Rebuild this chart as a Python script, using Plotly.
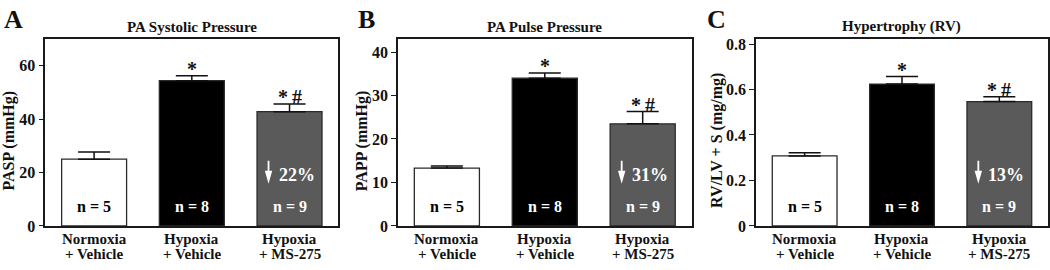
import plotly.graph_objects as go

# ---- data ----
group_line1 = ["Normoxia", "Hypoxia", "Hypoxia"]
group_line2 = ["+ Vehicle", "+ Vehicle", "+ MS-275"]
n_labels = ["n = 5", "n = 8", "n = 9"]
sig_labels = ["", "*", "*\u2009#"]

pasp_mean = [25.0, 54.4, 42.8]
pasp_err = [2.7, 1.8, 2.9]
papp_mean = [13.3, 34.0, 23.5]
papp_err = [0.5, 1.2, 2.8]
rv_mean = [0.308, 0.624, 0.547]
rv_err = [0.014, 0.033, 0.021]

panel_letters = ["A", "B", "C"]
panel_titles = ["PA Systolic Pressure", "PA Pulse Pressure", "Hypertrophy (RV)"]
y_titles = ["PASP (mmHg)", "PAPP (mmHg)", "RV/LV + S (mg/mg)"]
reductions = ["22%", "31%", "13%"]
y_ranges = [[0, 70], [0, 43], [0, 0.822]]
y_ticks = [[0, 20, 40, 60], [0, 10, 20, 30, 40], [0, 0.2, 0.4, 0.6, 0.8]]
y_ticktext = [["0", "20", "40", "60"], ["0", "10", "20", "30", "40"], ["0", "0.2", "0.4", "0.6", "0.8"]]

means = [pasp_mean, papp_mean, rv_mean]
errs = [pasp_err, papp_err, rv_err]

# ---- style ----
W, H = 1050, 270
FONT = "Liberation Serif"
INK = "#111111"
bar_colors = ["#ffffff", "#000000", "#5a5a5a"]
inner_text_colors = ["#000000", "#ffffff", "#ffffff"]
x_doms_px = [(45.3, 338.7), (398.3, 692.3), (756.7, 1049.0)]
y_top_px, y_bot_px = 37.7, 233.3
ylab_x_px = [9, 362, 717]
letter_x_px = [2, 356, 706]


def frac_y(px):
    return (y_bot_px - px) / (y_bot_px - y_top_px)


def bold(size, color=INK):
    return dict(family=FONT, size=size, color=color, weight="bold")


fig = go.Figure()
annotations = []
shapes = []

for i in range(3):
    sfx = "" if i == 0 else str(i + 1)
    xa, ya = "x" + sfx, "y" + sfx
    fig.add_trace(go.Bar(
        x=[0, 1, 2], y=means[i],
        xaxis=xa, yaxis=ya,
        width=0.665,
        marker=dict(color=bar_colors, line=dict(color="#2a2a2a", width=1.3)),
        error_y=dict(type="data", array=errs[i], arrayminus=[0, 0, 0], symmetric=False,
                     color=INK, thickness=1.5, width=16),
        showlegend=False, hoverinfo="skip",
    ))
    x0, x1 = x_doms_px[i]
    fig.layout["xaxis" + sfx] = dict(
        domain=[x0 / W, x1 / W], range=[-0.5, 2.5], anchor=ya,
        showticklabels=False, ticks="", showgrid=False, zeroline=False,
        showline=True, linecolor="#1a1a1a", linewidth=1.5, mirror=True, fixedrange=True,
    )
    fig.layout["yaxis" + sfx] = dict(
        domain=[1 - y_bot_px / H, 1 - y_top_px / H], range=y_ranges[i], anchor=xa,
        tickvals=y_ticks[i], ticktext=y_ticktext[i], ticks="outside", ticklen=5,
        tickwidth=1.3, tickcolor="#1a1a1a", tickfont=bold(16),
        showgrid=False, zeroline=False,
        showline=True, linecolor="#1a1a1a", linewidth=1.5, mirror=True, fixedrange=True,
    )
    xd = xa + " domain"
    yd = ya + " domain"
    annotations.append(dict(text=panel_letters[i], xref="paper", yref="paper",
                            x=letter_x_px[i] / W, y=1 - 0 / H, xanchor="left", yanchor="top",
                            showarrow=False, font=bold(26)))
    annotations.append(dict(text=panel_titles[i], xref=xd, yref="paper",
                            x=0.5, y=1 - 25 / H, xanchor="center", yanchor="middle",
                            showarrow=False, font=bold(15)))
    annotations.append(dict(text=y_titles[i], xref="paper", yref="paper",
                            x=ylab_x_px[i] / W, y=1 - 144 / H, xanchor="center", yanchor="middle",
                            textangle=-90, showarrow=False, font=bold(16)))
    for j in range(3):
        annotations.append(dict(text=group_line1[j], xref=xa, yref="paper",
                                x=j, y=1 - 247 / H, xanchor="center", yanchor="middle",
                                showarrow=False, font=bold(15)))
        annotations.append(dict(text=group_line2[j], xref=xa, yref="paper",
                                x=j, y=1 - 263 / H, xanchor="center", yanchor="middle",
                                showarrow=False, font=bold(15)))
        annotations.append(dict(text=n_labels[j], xref=xa, yref=yd,
                                x=j, y=frac_y(213), xanchor="center", yanchor="middle",
                                showarrow=False, font=bold(16, inner_text_colors[j])))
        if sig_labels[j]:
            annotations.append(dict(text=sig_labels[j], xref=xa, yref=ya,
                                    x=j, y=means[i][j] + errs[i][j], xanchor="center",
                                    yanchor="bottom", yshift=-6, showarrow=False,
                                    font=bold(20)))
    # downward arrow (pixel-sized shape anchored to the MS-275 bar)
    shapes.append(dict(type="path", xref=xa, yref=yd, xsizemode="pixel", ysizemode="pixel",
                       xanchor=2, yanchor=frac_y(165),
                       path="M -21.9,0 L -20.1,0 L -20.1,-10 L -17.3,-10 L -21,-23 "
                            "L -24.7,-10 L -21.9,-10 Z",
                       fillcolor="#ffffff", line=dict(width=0)))
    annotations.append(dict(text=reductions[i], xref=xa, yref=yd, x=2, xshift=7,
                            y=frac_y(179.5), xanchor="center", yanchor="middle",
                            showarrow=False, font=bold(18, "#ffffff")))

fig.update_layout(
    width=W, height=H, margin=dict(l=0, r=0, t=0, b=0),
    paper_bgcolor="#ffffff", plot_bgcolor="#ffffff",
    barmode="overlay", annotations=annotations, shapes=shapes,
)

fig.write_html("out.html", config={"displayModeBar": False},
               post_script="document.body.style.margin='0';")
